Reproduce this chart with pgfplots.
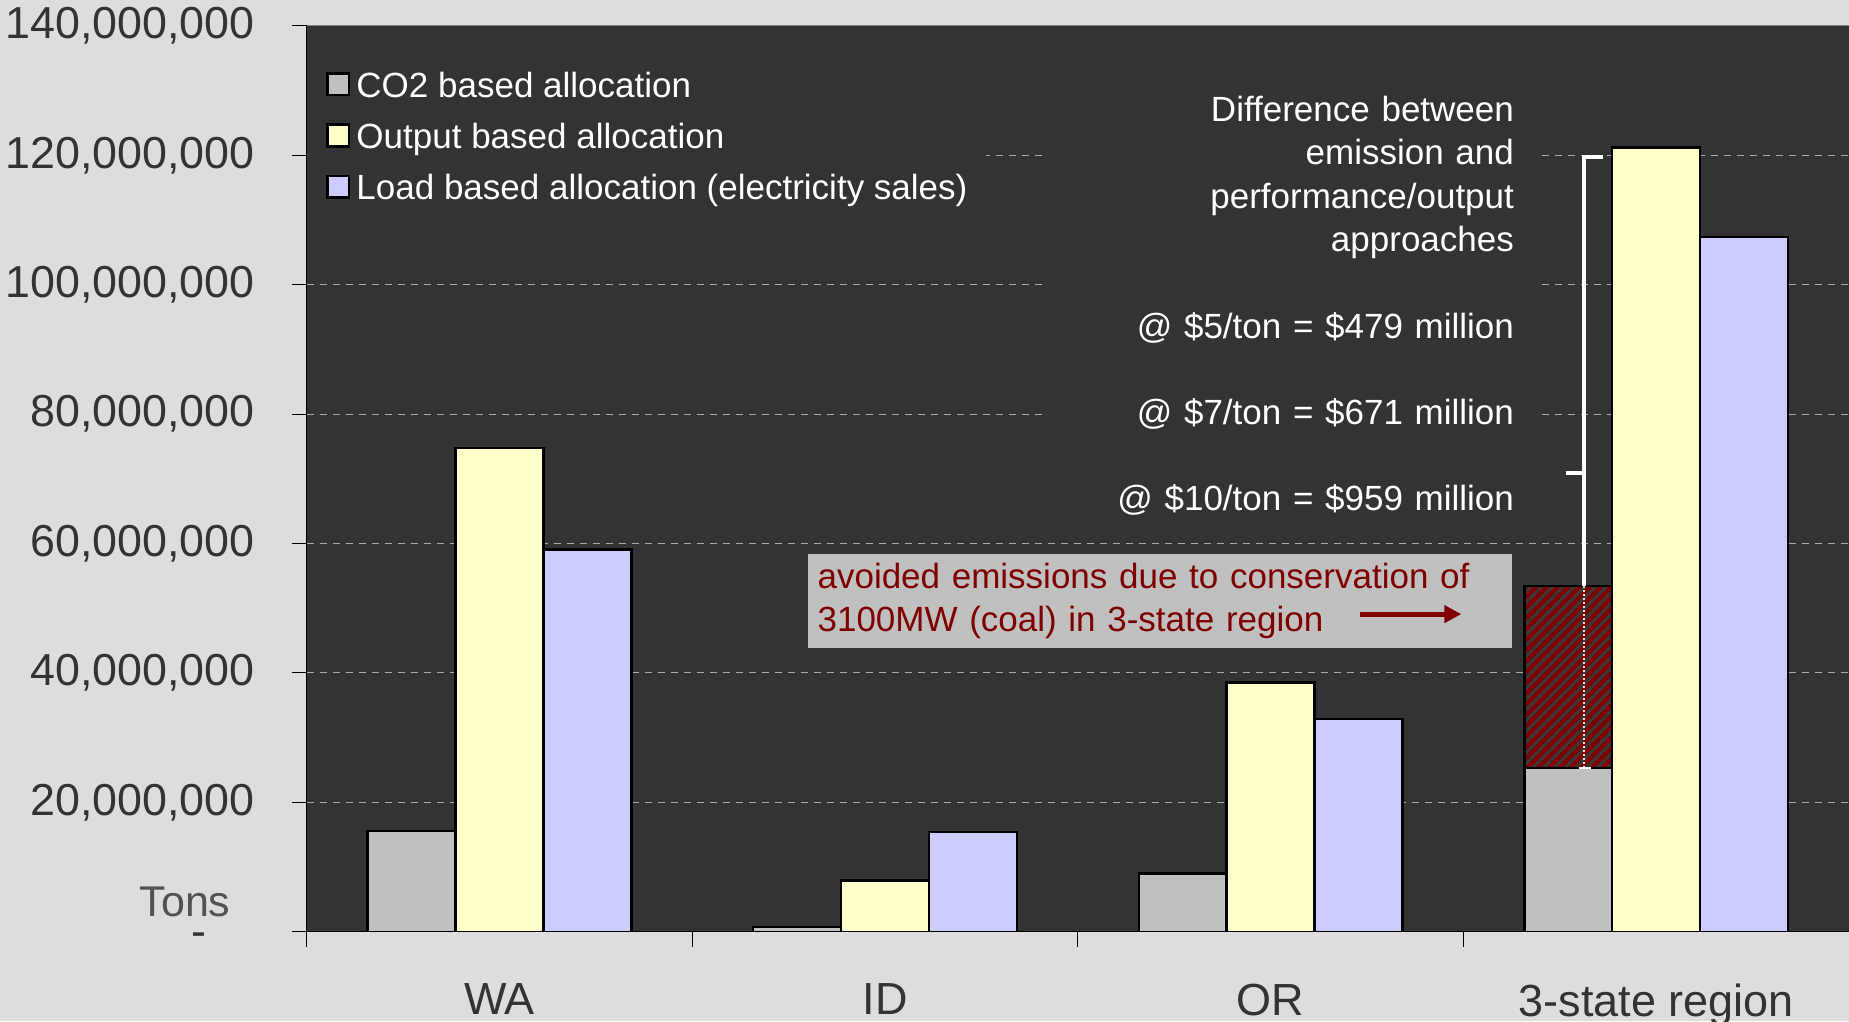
\documentclass[border=0pt]{standalone}
\usepackage{pgfplots}
\pgfplotsset{compat=1.18}
\usepackage{fontspec}
\setmainfont{Liberation Sans}
\usetikzlibrary{patterns,patterns.meta,arrows.meta}
\definecolor{outerbg}{HTML}{DDDDDD}
\definecolor{plotbg}{HTML}{333333}
\definecolor{cgrey}{HTML}{C0C0C0}
\definecolor{cyel}{HTML}{FFFFCC}
\definecolor{cblue}{HTML}{CCCCFF}
\definecolor{dred}{HTML}{800000}
\definecolor{txt}{HTML}{333333}
\definecolor{gridc}{HTML}{AAAAAA}
\begin{document}
\begin{tikzpicture}
\fill[outerbg] (-153.3pt,-44.75pt) rectangle (771pt,465.8pt);
\begin{axis}[
  scale only axis, width=771pt, height=452.8pt,
  xmin=-0.5, xmax=3.5, ymin=0, ymax=140000000,
  axis background/.style={fill=plotbg},
  axis x line*=bottom, axis y line*=left,
  axis line style={black, line width=0.6pt},
  ybar, bar width=0.228,
  xtick={0,1,2,3},
  xticklabels={WA,ID,OR,3-state region},
  minor xtick={-0.5,0.5,1.5,2.5,3.5},
  tick align=outside,
  major tick length=7.5pt, minor tick length=7.5pt,
  major x tick style={draw=none},
  minor x tick style={black, line width=0.5pt},
  ytick style={black, line width=0.5pt},
  ytick={0,20000000,40000000,60000000,80000000,100000000,120000000,140000000},
  yticklabels={{\smash{\raisebox{-7.5pt}{-}}\rule{24.25pt}{0pt}},{20,000,000},{40,000,000},{60,000,000},{80,000,000},{100,000,000},{120,000,000},{140,000,000}},
  yticklabel style={font=\fontsize{22.4}{27}\selectfont, text=txt, xshift=-15pt},
  xticklabel style={font=\fontsize{22.5}{27}\selectfont, text=txt, yshift=-15pt},
  ymajorgrids,
  grid style={gridc, dash pattern=on 3.5pt off 3pt, line width=0.5pt},
  legend style={at={(rel axis cs:0,1)}, anchor=north west, yshift=-12.5pt,
    fill=plotbg, draw=none, text=white, font=\fontsize{17.5}{21}\selectfont,
    inner xsep=9.5pt, inner ysep=10pt, row sep=8.6pt, column sep=3.1pt,
    nodes={inner sep=0pt, text height=13pt, text depth=4pt}},
  legend cell align=left,
  legend image code/.code={\draw[#1, draw=black, line width=1.3pt] (0pt,-3.3pt) rectangle (10.8pt,7.5pt);},
]
\addplot[bar shift=-0.228, fill=dred, draw=black, line width=1.2pt,
  postaction={pattern={Lines[angle=45, distance=3.8pt, line width=1.5pt]}, pattern color=black!55!gray},
  forget plot] coordinates {(3,53400000)};
\addplot[bar shift=-0.228, fill=cgrey, draw=black, line width=1.2pt]
  coordinates {(0,15600000) (1,700000) (2,9000000) (3,25300000)};
\addlegendentry{CO2 based allocation}
\addplot[bar shift=0, fill=cyel, draw=black, line width=1.2pt]
  coordinates {(0,74800000) (1,7900000) (2,38500000) (3,121200000)};
\addlegendentry{Output based allocation}
\addplot[bar shift=0.228, fill=cblue, draw=black, line width=1.2pt]
  coordinates {(0,59100000) (1,15400000) (2,32900000) (3,107400000)};
\addlegendentry{Load based allocation (electricity sales)}
\draw[white, line width=2pt] (axis cs:2.863,119800000) -- (axis cs:2.814,119800000) -- (axis cs:2.814,53400000);
\draw[white, line width=2pt] (axis cs:2.765,70900000) -- (axis cs:2.814,70900000);
\draw[white!75!gray, line width=1pt, dash pattern=on 1pt off 1pt] (axis cs:2.814,53400000) -- (axis cs:2.814,25300000);
\draw[white, line width=1pt] (axis cs:2.8,25300000) -- (axis cs:2.83,25300000);
\draw[gray, line width=0.5pt] (rel axis cs:0,1) -- (rel axis cs:1,1);
\end{axis}
\node[anchor=north east, fill=plotbg, inner xsep=11pt, inner ysep=6pt, text width=224.7pt, align=right, text=white, font=\fontsize{17.5}{21.8}\selectfont] at (614.7pt,424.1pt)
  {Difference between\\ emission and\\ performance/output\\ approaches\\[21.2pt] @ \$5/ton = \$479 million\\[21.2pt] @ \$7/ton = \$671 million\\[21.2pt] @ \$10/ton = \$959 million};
\node[anchor=north west, fill=cgrey, inner xsep=4.7pt, inner ysep=5pt, text width=342.6pt, align=left, text=dred, font=\fontsize{17.5}{21.1}\selectfont] at (250.5pt,189.3pt)
  {avoided emissions due to conservation of\\ 3100MW (coal) in 3-state region};
\draw[dred, line width=2.5pt, -{Triangle[length=8.5pt,width=8.5pt]}] (526.7pt,158.8pt) -- (577.2pt,158.8pt);
\node[font=\fontsize{21.5}{25}\selectfont, text=txt!85!white] at (-60.8pt,14.8pt) {Tons};
\pgfresetboundingbox
\path (-153.3pt,-44.75pt) rectangle (771pt,465.8pt);
\end{tikzpicture}
\end{document}
